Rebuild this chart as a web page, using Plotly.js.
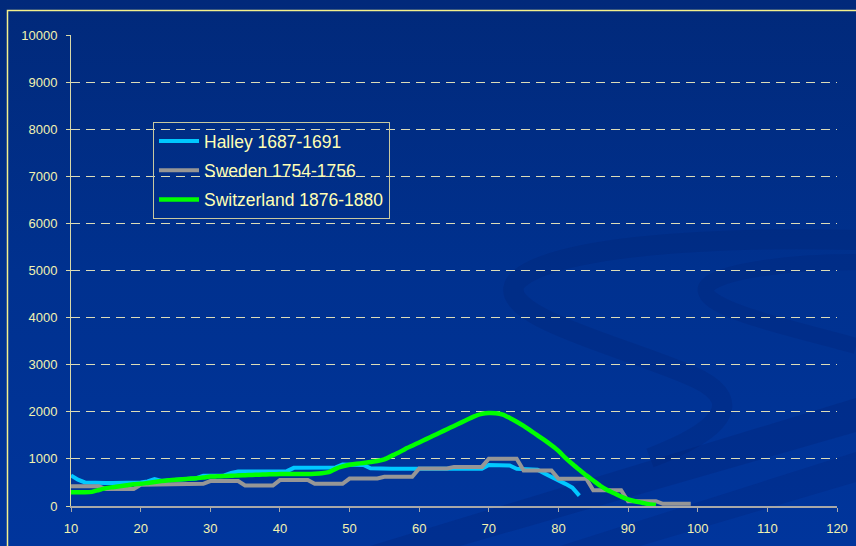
<!DOCTYPE html>
<html>
<head>
<meta charset="utf-8">
<script src="https://cdn.plot.ly/plotly-3.0.1.min.js"></script>
<style>html,body{margin:0;padding:0;background:#002f8c;}#chart{width:856px;height:546px;}</style>
</head>
<body>
<div id="chart"></div>
<script>
// ---- data ----
var seriesNames = ["Halley 1687-1691", "Sweden 1754-1756", "Switzerland 1876-1880"];

var halleyStartAge = 10;
var halleyValues = [
  650, 560, 500, 490, 490, 490, 490, 490, 490, 490,
  500, 520, 570, 530, 540, 550, 550, 560, 590, 640,
  640, 640, 650, 700, 730, 730, 730, 730, 730, 730,
  730, 740, 810, 810, 810, 810, 810, 810, 820, 880,
  880, 880, 870, 800, 790,
  790, 790, 790, 790, 790, 790, 790, 790, 790, 790, 790, 790, 790, 790, 790,
  870, 870, 870, 860, 790, 780, 780, 770, 690, 620,
  560, 470, 390, 220
];

var swedenStartAge = 10;
var swedenValues = [
  420, 420, 420, 420, 420,
  360, 360, 360, 360, 360,
  450, 450, 450, 450, 450,
  470, 470, 470, 470, 470,
  530, 530, 530, 530, 530,
  435, 435, 435, 435, 435,
  550, 550, 550, 550, 550,
  470, 470, 470, 470, 470,
  583, 583, 583, 583, 583,
  619, 619, 619, 619, 619,
  795, 795, 795, 795, 795,
  830, 830, 830, 830, 830,
  1005, 1005, 1005, 1005, 1005,
  753, 753, 753, 753, 753,
  577, 577, 577, 577, 577,
  335, 335, 335, 335, 335,
  102, 102, 102, 102, 102,
  46, 46, 46, 46, 46
];

var switzerlandStartAge = 10;
var switzerlandValues = [
  290, 290, 290, 300, 340, 380, 400, 420, 440, 460,
  470, 490, 510, 530, 545, 555, 570, 580, 590, 605,
  625, 630, 635, 640, 650, 655, 660, 665, 670, 675,
  678, 680, 680, 680, 680, 685, 695, 720, 790, 840,
  875, 895, 915, 935, 955, 990, 1060, 1130, 1210, 1280,
  1350, 1420, 1490, 1560, 1630, 1700, 1770, 1840, 1910, 1955,
  1975, 1970, 1940, 1870, 1790, 1700, 1600, 1500, 1400, 1290,
  1170, 1020, 890, 770, 650, 540, 430, 340, 270, 200,
  140, 100, 70, 40, 20
];

var xTickValues = [10, 20, 30, 40, 50, 60, 70, 80, 90, 100, 110, 120];
var yTickValues = [0, 1000, 2000, 3000, 4000, 5000, 6000, 7000, 8000, 9000, 10000];

function agesFor(start, values) {
  var a = [];
  for (var i = 0; i < values.length; i++) a.push(start + i);
  return a;
}

// ---- decorative background (slide gradient, swooshes, chart frame) ----
var bgSvg =
  '<svg xmlns="http://www.w3.org/2000/svg" width="856" height="546" viewBox="0 0 856 546">' +
  '<defs><linearGradient id="g" x1="0" y1="0" x2="0" y2="1">' +
  '<stop offset="0" stop-color="#01297a"/><stop offset="0.5" stop-color="#00318f"/><stop offset="1" stop-color="#00359c"/>' +
  '</linearGradient></defs>' +
  '<rect x="0" y="0" width="856" height="546" fill="url(#g)"/>' +
  '<path d="M856,240 C700,236 545,248 516,282 C492,318 640,350 700,380 C742,402 724,430 650,458" fill="none" stroke="rgba(0,22,95,0.16)" stroke-width="20"/>' +
  '<path d="M856,262 C780,262 700,274 706,292 C712,312 800,330 856,346" fill="none" stroke="rgba(0,22,95,0.14)" stroke-width="16"/>' +
  '<polygon points="370,546 856,398 856,432 460,546" fill="rgba(0,22,95,0.18)"/>' +
  '<polygon points="560,546 856,452 856,482 640,546" fill="rgba(0,22,95,0.15)"/>' +
  '<path d="M7.5,600 L7.5,10.5 L900,10.5" fill="none" stroke="#f4f08c" stroke-width="1.5"/>' +
  '</svg>';
var bgUri = 'data:image/svg+xml;charset=utf-8,' + encodeURIComponent(bgSvg);

var W = 856, H = 546, ML = 71, MR = 19, MT = 35, MB = 40;
var PW = W - ML - MR, PH = H - MT - MB;

var traces = [
  {
    x: agesFor(halleyStartAge, halleyValues), y: halleyValues,
    name: seriesNames[0], type: 'scatter', mode: 'lines',
    line: {color: '#00c8ff', width: 4}, legendgroup: 'a'
  },
  {
    x: agesFor(swedenStartAge, swedenValues), y: swedenValues,
    name: seriesNames[1], type: 'scatter', mode: 'lines',
    line: {color: '#969696', width: 4}, legendgroup: 'b'
  },
  {
    x: agesFor(switzerlandStartAge, switzerlandValues), y: switzerlandValues,
    name: seriesNames[2], type: 'scatter', mode: 'lines',
    line: {color: '#00ff00', width: 4.5, shape: 'spline', smoothing: 0.6}, legendgroup: 'c'
  }
];

var tickFont = {family: 'Arial, "Liberation Sans", sans-serif', size: 13, color: '#f2f2b0'};

var layout = {
  width: W, height: H,
  margin: {l: ML, r: MR, t: MT, b: MB, pad: 0},
  paper_bgcolor: '#002f8c',
  plot_bgcolor: 'rgba(0,0,0,0)',
  font: {family: 'Arial, "Liberation Sans", sans-serif', color: '#f2f2b0'},
  showlegend: true,
  legend: {
    x: (153 - ML) / PW, y: (H - MB - 122) / PH, xanchor: 'left', yanchor: 'top',
    bgcolor: 'rgba(0,0,0,0)', bordercolor: '#c8c8a0', borderwidth: 1,
    font: {family: 'Arial, "Liberation Sans", sans-serif', size: 17.5, color: '#ffffb4'},
    tracegroupgap: 3.5, traceorder: 'grouped', itemwidth: 40
  },
  xaxis: {
    range: [10, 120], tickvals: xTickValues, ticktext: xTickValues.map(String),
    showgrid: false, zeroline: false, showline: true,
    linecolor: '#a8a8a8', linewidth: 2,
    ticks: 'outside', ticklen: 4, tickcolor: '#a8a8a8', tickwidth: 1,
    tickfont: tickFont, ticklabelstandoff: 5, fixedrange: true
  },
  yaxis: {
    range: [0, 10000], tickvals: yTickValues, ticktext: yTickValues.map(String),
    showgrid: true, gridcolor: '#dcdcb8', gridwidth: 1, griddash: '9px,6px',
    zeroline: false, showline: true, linecolor: '#d8d8a8', linewidth: 1,
    ticks: 'outside', ticklen: 4, tickcolor: '#d8d8a8',
    tickfont: tickFont, ticklabelstandoff: 6, fixedrange: true
  },
  images: [{
    source: bgUri, xref: 'paper', yref: 'paper',
    x: -ML / PW, y: 1 + MT / PH, sizex: W / PW, sizey: H / PH,
    xanchor: 'left', yanchor: 'top', sizing: 'stretch', layer: 'below'
  }]
};

Plotly.newPlot('chart', traces, layout, {displayModeBar: false, staticPlot: true});
</script>
</body>
</html>
